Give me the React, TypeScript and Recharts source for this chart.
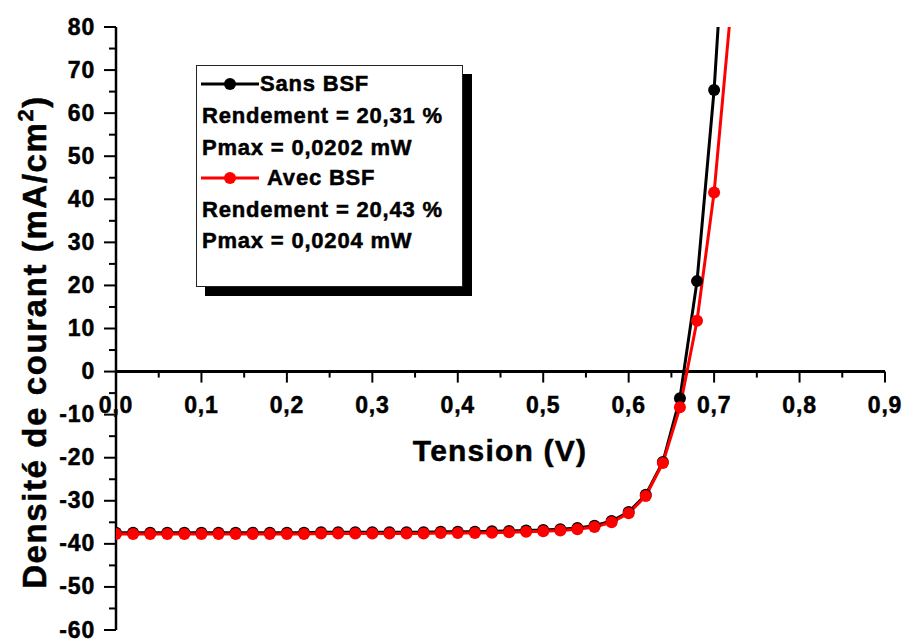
import React from "react";
import { LineChart, Line, XAxis, YAxis, ReferenceLine, Label } from "recharts";

// Voltage samples (V)
const voltage = [
  0.0, 0.02, 0.04, 0.06, 0.08, 0.1, 0.12, 0.14, 0.16, 0.18, 0.2, 0.22, 0.24,
  0.26, 0.28, 0.3, 0.32, 0.34, 0.36, 0.38, 0.4, 0.42, 0.44, 0.46, 0.48, 0.5,
  0.52, 0.54, 0.56, 0.58, 0.6, 0.62, 0.64, 0.66, 0.68, 0.7, 0.72,
];

// Current density without BSF (mA/cm²)
const sansBSF = [
  -37.4, -37.4, -37.4, -37.4, -37.4, -37.4, -37.4, -37.4, -37.4, -37.4, -37.4,
  -37.4, -37.3, -37.3, -37.3, -37.3, -37.3, -37.3, -37.3, -37.2, -37.2, -37.2,
  -37.1, -37.0, -36.9, -36.8, -36.6, -36.3, -35.8, -34.7, -32.6, -28.6, -21.0,
  -6.2, 21.0, 65.4, 128,
];

// Current density with BSF (mA/cm²)
const avecBSF = [
  -37.7, -37.7, -37.7, -37.7, -37.7, -37.7, -37.7, -37.7, -37.7, -37.7, -37.7,
  -37.7, -37.6, -37.6, -37.6, -37.6, -37.6, -37.6, -37.6, -37.5, -37.5, -37.5,
  -37.4, -37.3, -37.2, -37.1, -36.9, -36.6, -36.1, -35.0, -32.9, -28.9, -21.2,
  -8.3, 11.8, 41.6, 85,
];

const xMajorTicks = [0, 0.1, 0.2, 0.3, 0.4, 0.5, 0.6, 0.7, 0.8, 0.9];
const xMinorTicks = [0.05, 0.15, 0.25, 0.35, 0.45, 0.55, 0.65, 0.75, 0.85];
const xTickLabels = ["0,0", "0,1", "0,2", "0,3", "0,4", "0,5", "0,6", "0,7", "0,8", "0,9"];

const yMajorTicks = [-60, -50, -40, -30, -20, -10, 0, 10, 20, 30, 40, 50, 60, 70, 80];
const yMinorTicks = [-55, -45, -35, -25, -15, -5, 5, 15, 25, 35, 45, 55, 65, 75];
const yTickLabels = ["-60", "-50", "-40", "-30", "-20", "-10", "0", "10", "20", "30", "40", "50", "60", "70", "80"];

const legendLines = [
  "Sans BSF",
  "Rendement = 20,31 %",
  "Pmax = 0,0202 mW",
  "Avec BSF",
  "Rendement = 20,43 %",
  "Pmax = 0,0204 mW",
];

const rows = voltage.map((v, i) => ({ v, sans: sansBSF[i], avec: avecBSF[i] }));

const Y_MIN = -60;
const Y_MAX = 80;
const X_MAX = 0.9;

const CHART_W = 905;
const CHART_H = 639;
const X_AXIS_H = 9;
const MARGIN = { top: 27, right: 20, bottom: 0, left: 0 };
const Y_AXIS_W = 116;
const PLOT_LEFT = MARGIN.left + Y_AXIS_W;
const PLOT_TOP = MARGIN.top;
const PLOT_BOTTOM = CHART_H - MARGIN.bottom - X_AXIS_H;
const Y_ZERO = PLOT_TOP + ((PLOT_BOTTOM - PLOT_TOP) * Y_MAX) / (Y_MAX - Y_MIN);

const FONT = "'Liberation Sans', Arial, Helvetica, sans-serif";

// Shared bold text styling (slight outline for a heavier weight)
const boldText = {
  fontFamily: FONT,
  fontWeight: "bold" as const,
  fill: "#000",
  stroke: "#000",
  strokeWidth: 0.5,
};

const near = (a: number, b: number) => Math.abs(a - b) < 1e-9;

const XTick = (props: any) => {
  const { x, payload } = props;
  const idx = xMajorTicks.findIndex((t) => near(t, payload.value));
  if (idx < 0) {
    return <line x1={x} x2={x} y1={Y_ZERO} y2={Y_ZERO + 6} stroke="#000" strokeWidth={2} />;
  }
  return (
    <g>
      <line x1={x} x2={x} y1={Y_ZERO} y2={Y_ZERO + 11} stroke="#000" strokeWidth={2} />
      <text x={x} y={Y_ZERO + 41} textAnchor="middle" fontSize={23} letterSpacing={0.8} {...boldText}>
        {xTickLabels[idx]}
      </text>
    </g>
  );
};

const YTick = (props: any) => {
  const { y, payload } = props;
  const idx = yMajorTicks.findIndex((t) => near(t, payload.value));
  if (idx < 0) {
    return <line x1={PLOT_LEFT - 7} x2={PLOT_LEFT} y1={y} y2={y} stroke="#000" strokeWidth={2} />;
  }
  return (
    <g>
      <line x1={PLOT_LEFT - 12} x2={PLOT_LEFT} y1={y} y2={y} stroke="#000" strokeWidth={2} />
      <text x={PLOT_LEFT - 21} y={y + 7.5} textAnchor="end" fontSize={23} letterSpacing={0.8} {...boldText}>
        {yTickLabels[idx]}
      </text>
    </g>
  );
};

const makeDot = (color: string) => (props: any) => {
  const { cx, cy, value, index } = props;
  if (value == null || value > Y_MAX || cx == null || cy == null) {
    return <g key={`dot-${color}-${index}`} />;
  }
  return <circle key={`dot-${color}-${index}`} cx={cx} cy={cy} r={6} fill={color} stroke="none" />;
};

const XTitle = () => (
  <text x={500} y={461} textAnchor="middle" fontSize={30} letterSpacing={1.2} {...boldText}>
    Tension (V)
  </text>
);

const YTitle = () => (
  <text
    transform="translate(46,342) rotate(-90)"
    textAnchor="middle"
    fontSize={33}
    letterSpacing={1.6}
    {...boldText}
  >
    <tspan>Densité de courant (mA/cm</tspan>
    <tspan dy={-13} fontSize={22}>2</tspan>
    <tspan dy={13}>)</tspan>
  </text>
);

const LegendBox = () => {
  const textProps = { ...boldText, fontSize: 22, letterSpacing: 0.8 };
  return (
    <svg
      width={290}
      height={245}
      style={{ position: "absolute", left: 196, top: 65, overflow: "visible" }}
    >
      <rect x={9} y={9} width={267} height={222} fill="#000" />
      <rect x={0.5} y={0.5} width={266} height={221} fill="#fff" stroke="#222" strokeWidth={1} />
      <line x1={5} x2={63} y1={19} y2={19} stroke="#000" strokeWidth={3} />
      <circle cx={34} cy={19} r={6} fill="#000" />
      <text x={64} y={26} {...textProps}>{legendLines[0]}</text>
      <text x={6} y={58} {...textProps}>{legendLines[1]}</text>
      <text x={6} y={90} {...textProps}>{legendLines[2]}</text>
      <line x1={5} x2={63} y1={113} y2={113} stroke="#ff0000" strokeWidth={3} />
      <circle cx={34} cy={113} r={6} fill="#ff0000" />
      <text x={71} y={120} {...textProps}>{legendLines[3]}</text>
      <text x={6} y={152} {...textProps}>{legendLines[4]}</text>
      <text x={6} y={183} {...textProps}>{legendLines[5]}</text>
    </svg>
  );
};

export default function App() {
  return (
    <div
      style={{
        position: "absolute",
        left: 0,
        top: 0,
        width: CHART_W,
        height: CHART_H,
        background: "#fff",
      }}
    >
      <LineChart width={CHART_W} height={CHART_H} data={rows} margin={MARGIN}>
        <XAxis
          type="number"
          dataKey="v"
          domain={[0, X_MAX]}
          ticks={[...xMajorTicks, ...xMinorTicks]}
          interval={0}
          allowDataOverflow
          axisLine={false}
          tickLine={false}
          tick={XTick}
          height={X_AXIS_H}
        >
          <Label content={XTitle} />
        </XAxis>
        <YAxis
          type="number"
          domain={[Y_MIN, Y_MAX]}
          ticks={[...yMajorTicks, ...yMinorTicks]}
          interval={0}
          allowDataOverflow
          width={Y_AXIS_W}
          axisLine={{ stroke: "#000", strokeWidth: 2.5 }}
          tickLine={false}
          tick={YTick}
        >
          <Label content={YTitle} />
        </YAxis>
        <ReferenceLine y={0} stroke="#000" strokeWidth={3} />
        <Line
          type="linear"
          dataKey="sans"
          stroke="#000"
          strokeWidth={3}
          dot={makeDot("#000")}
          activeDot={false}
          isAnimationActive={false}
        />
        <Line
          type="linear"
          dataKey="avec"
          stroke="#ff0000"
          strokeWidth={3}
          dot={makeDot("#ff0000")}
          activeDot={false}
          isAnimationActive={false}
        />
      </LineChart>
      <LegendBox />
    </div>
  );
}
